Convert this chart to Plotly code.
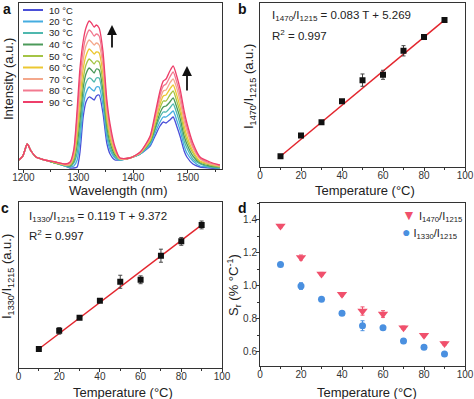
import plotly.graph_objects as go

W, H = 474, 399
FONT = "Arial, Liberation Sans, sans-serif"
DARK = "#333333"

# ---------------- data ----------------
# panel a: emission spectra (wavelength in nm, intensity in arbitrary units)
wavelength = [1192, 1199, 1207, 1214, 1223, 1239, 1258, 1276, 1285, 1292, 1298, 1303, 1309, 1314,
              1320, 1324, 1329, 1333, 1338, 1345, 1352, 1358, 1367, 1376, 1394, 1413, 1431, 1440,
              1449, 1455, 1460, 1467, 1473, 1480, 1486, 1493, 1498, 1509, 1522, 1540, 1558]
spec_10 = [9, 13, 25, 18, 12, 9, 6, 3, 1, 1, 2, 16, 52, 67, 72, 71, 69, 73, 74, 56, 26, 15, 9, 9, 11, 15, 23, 33, 43, 47, 46, 49, 52, 42, 32, 18, 12, 5, 2, 1, 0]
spec_20 = [9, 13, 25, 18, 12, 9, 6, 3, 2, 3, 9, 27, 62, 76, 82, 80, 78, 82, 82, 64, 32, 19, 11, 9, 11, 15, 24, 36, 47, 52, 52, 55, 58, 48, 38, 23, 16, 8, 3, 2, 1]
spec_30 = [9, 13, 25, 18, 12, 9, 6, 3, 2, 6, 16, 37, 71, 86, 91, 90, 87, 91, 91, 72, 37, 22, 12, 9, 11, 15, 26, 39, 52, 57, 57, 61, 65, 55, 44, 28, 21, 10, 5, 2, 1]
spec_40 = [9, 13, 25, 18, 12, 9, 6, 4, 3, 8, 24, 48, 81, 95, 101, 99, 96, 100, 99, 79, 43, 26, 14, 10, 11, 16, 27, 41, 56, 62, 63, 67, 71, 61, 50, 33, 25, 13, 6, 3, 2]
spec_50 = [9, 13, 25, 18, 12, 9, 6, 4, 4, 10, 31, 58, 90, 104, 110, 108, 105, 108, 107, 87, 48, 30, 16, 10, 11, 16, 28, 44, 61, 68, 68, 74, 78, 67, 56, 38, 29, 16, 7, 4, 2]
spec_60 = [9, 13, 25, 18, 12, 9, 7, 4, 5, 13, 38, 69, 100, 113, 120, 118, 115, 117, 116, 95, 54, 34, 17, 10, 11, 16, 29, 47, 65, 73, 74, 80, 84, 73, 61, 43, 33, 18, 8, 5, 3]
spec_70 = [9, 13, 25, 18, 12, 9, 7, 4, 5, 15, 45, 79, 109, 123, 129, 127, 124, 126, 124, 103, 59, 37, 19, 10, 11, 16, 31, 50, 69, 78, 79, 86, 90, 80, 67, 48, 38, 21, 10, 5, 3]
spec_80 = [9, 13, 25, 18, 12, 9, 7, 5, 6, 18, 53, 90, 119, 132, 139, 137, 133, 135, 133, 110, 65, 41, 20, 11, 11, 17, 32, 52, 74, 83, 85, 92, 97, 86, 73, 53, 42, 23, 11, 6, 4]
spec_90 = [9, 13, 25, 18, 12, 9, 7, 5, 7, 20, 60, 100, 128, 141, 148, 146, 142, 144, 141, 118, 70, 45, 22, 11, 11, 17, 33, 55, 78, 88, 90, 98, 103, 92, 79, 58, 46, 26, 12, 7, 4]
spec_labels = ["10 °C", "20 °C", "30 °C", "40 °C", "50 °C", "60 °C", "70 °C", "80 °C", "90 °C"]
spectra = [spec_10, spec_20, spec_30, spec_40, spec_50, spec_60, spec_70, spec_80, spec_90]

# panels b-d
temperature = [10, 20, 30, 40, 50, 60, 70, 80, 90]
ratio_1470 = [6.10, 7.11, 7.76, 8.78, 9.81, 10.07, 11.24, 11.91, 12.74]
err_1470 = [0.08, 0.10, 0.06, 0.08, 0.30, 0.22, 0.25, 0.12, 0.10]
ratio_1330 = [10.56, 11.95, 12.95, 14.26, 15.72, 15.87, 17.72, 18.82, 20.08]
err_1330 = [0.10, 0.25, 0.10, 0.12, 0.50, 0.30, 0.50, 0.30, 0.30]
fit_1470 = (0.083, 5.269)
fit_1330 = (0.119, 9.372)
fit_T = [9, 91]
sr_1470 = [1.36, 1.17, 1.07, 0.947, 0.846, 0.828, 0.745, 0.70, 0.65]
sr_err_1470 = [0.01, 0.015, 0.01, 0.01, 0.025, 0.02, 0.01, 0.01, 0.01]
sr_1330 = [1.128, 0.997, 0.918, 0.832, 0.757, 0.745, 0.664, 0.626, 0.586]
sr_err_1330 = [0.01, 0.02, 0.01, 0.01, 0.03, 0.01, 0.015, 0.01, 0.01]

# ---------------- style ----------------
spec_colors = ["#4a4fd8", "#45ade0", "#4fb8ae", "#4c9a5a", "#a4c445",
               "#ecc832", "#f4a88c", "#f27a90", "#ee3f6a"]
RED = "#e3262e"
TRI = "#f0506c"
CIR = "#4a90e0"


def px(x):
    return x / W


def py(y):
    return 1 - y / H


fig = go.Figure()

for lab, ys, col in zip(spec_labels, spectra, spec_colors):
    fig.add_trace(go.Scatter(x=wavelength, y=ys, mode="lines", name=lab,
                             line=dict(color=col, width=1.3, shape="spline", smoothing=0.6),
                             xaxis="x", yaxis="y", showlegend=False))

# panel b
fig.add_trace(go.Scatter(x=fit_T, y=[fit_1470[0] * t + fit_1470[1] for t in fit_T], mode="lines",
                         line=dict(color=RED, width=1.5), xaxis="x2", yaxis="y2", showlegend=False))
fig.add_trace(go.Scatter(x=temperature, y=ratio_1470, mode="markers",
                         marker=dict(symbol="square", size=6, color="#111111"),
                         error_y=dict(type="data", array=err_1470, color="#444444", thickness=1, width=2),
                         xaxis="x2", yaxis="y2", showlegend=False))
# panel c
fig.add_trace(go.Scatter(x=fit_T, y=[fit_1330[0] * t + fit_1330[1] for t in fit_T], mode="lines",
                         line=dict(color=RED, width=1.5), xaxis="x3", yaxis="y3", showlegend=False))
fig.add_trace(go.Scatter(x=temperature, y=ratio_1330, mode="markers",
                         marker=dict(symbol="square", size=6, color="#111111"),
                         error_y=dict(type="data", array=err_1330, color="#444444", thickness=1, width=2),
                         xaxis="x3", yaxis="y3", showlegend=False))
# panel d
fig.add_trace(go.Scatter(x=temperature, y=sr_1470, mode="markers",
                         marker=dict(symbol="triangle-down", size=9, color=TRI),
                         error_y=dict(type="data", array=sr_err_1470, color=TRI, thickness=1, width=2),
                         xaxis="x4", yaxis="y4", showlegend=False))
fig.add_trace(go.Scatter(x=temperature, y=sr_1330, mode="markers",
                         marker=dict(symbol="circle", size=7, color=CIR),
                         error_y=dict(type="data", array=sr_err_1330, color=CIR, thickness=1, width=2),
                         xaxis="x4", yaxis="y4", showlegend=False))

base = dict(showline=True, mirror=True, linecolor=DARK, linewidth=1, showgrid=False, zeroline=False,
            automargin=False, ticks="outside", ticklen=3, tickcolor=DARK, ticklabelstandoff=-4,
            tickfont=dict(size=10, color=DARK, family=FONT))
noy = dict(showline=True, mirror=True, linecolor=DARK, linewidth=1, showgrid=False, zeroline=False,
           automargin=False, ticks="", showticklabels=False)
mnr = dict(ticks="outside", ticklen=2, dtick=10, tickcolor=DARK)

fig.update_layout(
    width=W, height=H, margin=dict(l=0, r=0, t=0, b=0, pad=0, autoexpand=False),
    paper_bgcolor="white", plot_bgcolor="white",
    font=dict(family=FONT, color="#222222"),
    xaxis=dict(base, domain=[px(19), px(222)], range=[1192, 1562], anchor="y",
               tickvals=[1200, 1300, 1400, 1500],
               minor=dict(ticks="outside", ticklen=2, tickvals=[1250, 1350, 1450, 1550], tickcolor=DARK)),
    yaxis=dict(noy, domain=[py(169), py(3)], range=[0, 166], anchor="x"),
    xaxis2=dict(base, domain=[px(260), px(465)], range=[0, 100], anchor="y2", dtick=20, minor=mnr),
    yaxis2=dict(noy, domain=[py(166.5), py(3)], range=[5.6, 13.57], anchor="x2"),
    xaxis3=dict(base, domain=[px(18.5), px(222)], range=[0, 100], anchor="y3", dtick=20, minor=mnr),
    yaxis3=dict(noy, domain=[py(368), py(201.5)], range=[9.10, 21.88], anchor="x3"),
    xaxis4=dict(base, domain=[px(260), px(465)], range=[0, 100], anchor="y4", dtick=20, minor=mnr),
    yaxis4=dict(base, domain=[py(365.7), py(203)], range=[0.515, 1.5], anchor="x4",
                tick0=0.6, dtick=0.2, tickformat=".1f", ticklabelstandoff=-3,
                minor=dict(ticks="outside", ticklen=2, dtick=0.1, tickcolor=DARK)),
)

ann = []
shapes = []


def text(t, x, y, size, xanchor="center", angle=0, color="#222222"):
    ann.append(dict(text=t, x=px(x), y=py(y), xref="paper", yref="paper", showarrow=False,
                    xanchor=xanchor, yanchor="middle", textangle=angle,
                    font=dict(size=size, color=color, family=FONT)))


# axis titles
text("Wavelength (nm)", 118, 190, 13)
text("Temperature (°C)", 365, 190, 13)
text("Temperature (°C)", 123, 392, 13)
text("Temperature (°C)", 367, 392, 13)
text("Intensity (a.u.)", 8, 79, 13, angle=-90)
text("I<sub>1470</sub>/I<sub>1215</sub> (a.u.)", 249, 87, 13, angle=-90)
text("I<sub>1330</sub>/I<sub>1215</sub> (a.u.)", 7, 277, 13, angle=-90)
text("S<sub>r</sub> (% °C<sup>-1</sup>)", 234, 285, 13, angle=-90)

# panel letters
for letter, x, y in [("a", 7, 9), ("b", 243, 9), ("c", 5, 208), ("d", 243, 208)]:
    text(f"<b>{letter}</b>", x, y, 14, color="#111111")

# legend of panel a
leg_y = [10, 21.5, 33, 44.5, 56, 67.5, 79, 90.5, 102]
for lab, col, y in zip(spec_labels, spec_colors, leg_y):
    shapes.append(dict(type="line", xref="paper", yref="paper", x0=px(23), x1=px(43),
                       y0=py(y), y1=py(y), line=dict(color=col, width=2)))
    text(lab, 47, y, 9.5, xanchor="left")

# arrows of panel a
for xh, yh, yt in [(112, 25, 49), (187, 66, 92)]:
    ann.append(dict(text="", x=px(xh), y=py(yh), xref="paper", yref="paper", ax=0, ay=yt - yh,
                    showarrow=True, arrowhead=2, arrowsize=1.1, arrowwidth=1.8, arrowcolor="#111111"))

# equations
text("I<sub>1470</sub>/I<sub>1215</sub> = 0.083 T + 5.269", 270, 16, 11.5, xanchor="left")
text("R<sup>2</sup> = 0.997", 270, 35, 11.5, xanchor="left")
text("I<sub>1330</sub>/I<sub>1215</sub> = 0.119 T + 9.372", 27, 217, 11.5, xanchor="left")
text("R<sup>2</sup> = 0.997", 27, 235, 11.5, xanchor="left")

# legend of panel d
for sym, col, lab, y in [("▼", TRI, "I<sub>1470</sub>/I<sub>1215</sub>", 215),
                         ("●", CIR, "I<sub>1330</sub>/I<sub>1215</sub>", 232)]:
    text(f"<span style='color:{col};font-size:14px'>{sym}</span> {lab}", 400, y, 11, xanchor="left")

fig.update_layout(annotations=ann, shapes=shapes)
fig.write_html("out.html", config={"displayModeBar": False},
               post_script="document.body.style.margin='0px';")
